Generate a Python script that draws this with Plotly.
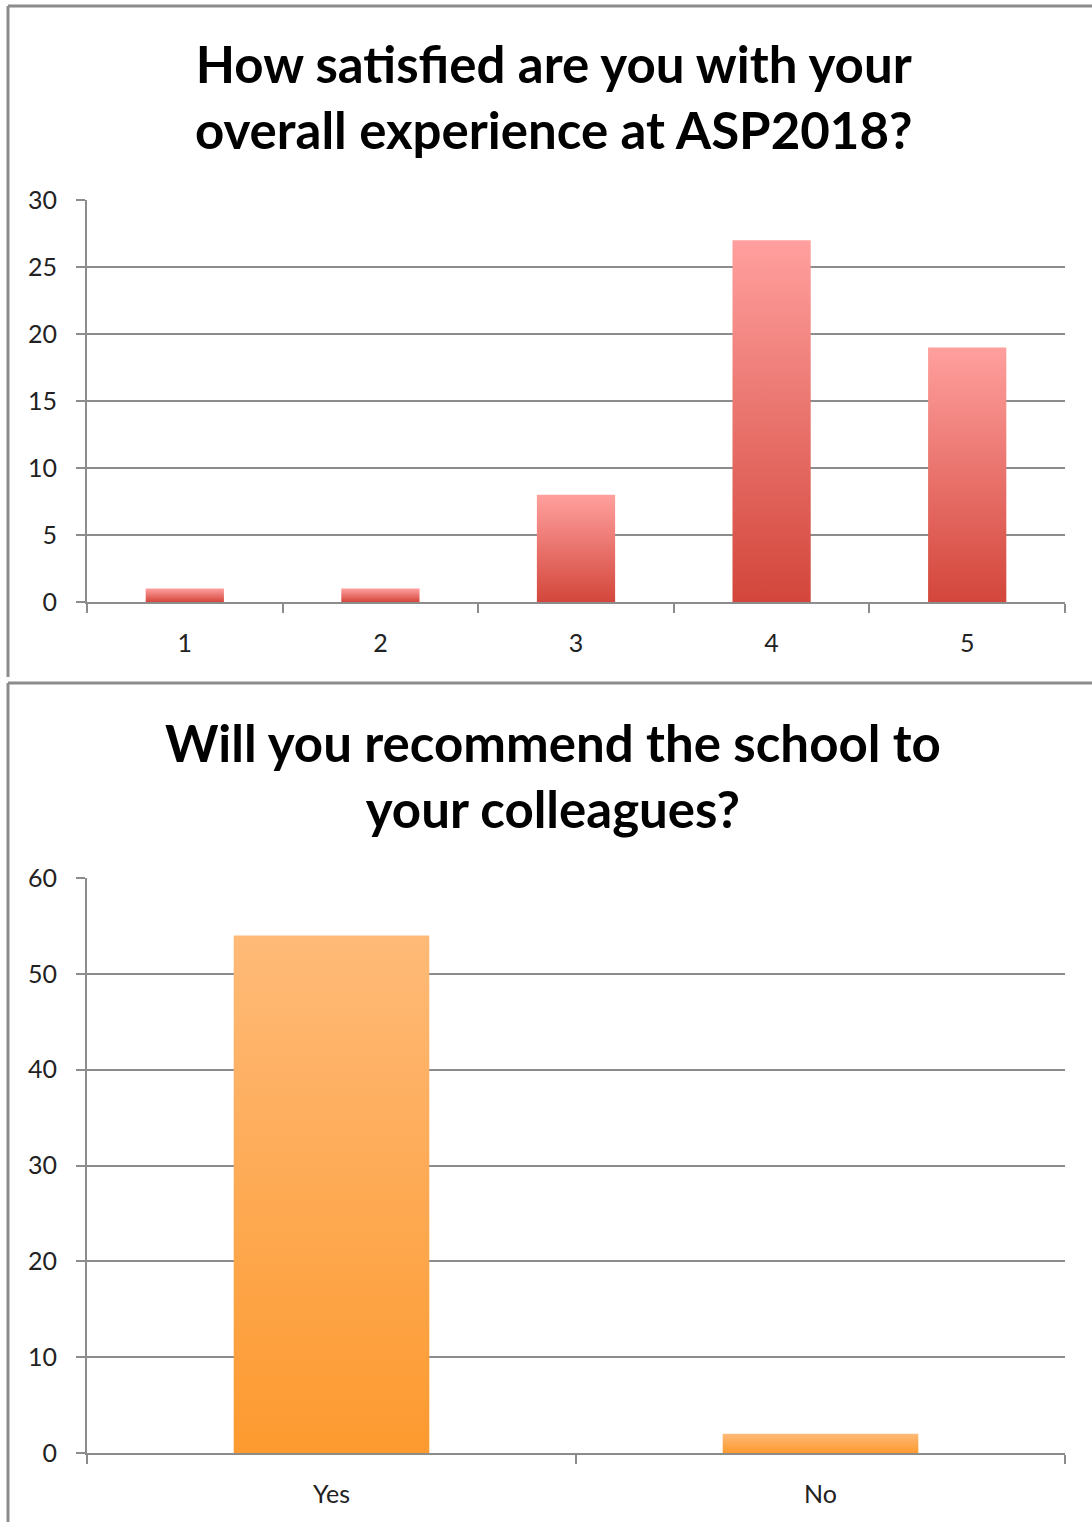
import plotly.graph_objects as go

# ---- data ----
sat_categories = ["1", "2", "3", "4", "5"]
sat_counts = [1, 1, 8, 27, 19]
rec_categories = ["Yes", "No"]
rec_counts = [54, 2]

W, H = 1092, 1522
FONT = "Lato"
GRID = "#8c8c8c"
BAR_W = 0.4


def px(x):
    return x / W


def py(y):
    return 1 - y / H


fig = go.Figure()


def add_bars(cats, vals, xa, ya, colorscale):
    for i, (c, v) in enumerate(zip(cats, vals)):
        x0, x1 = i - BAR_W / 2, i + BAR_W / 2
        fig.add_trace(go.Scatter(
            x=[x0, x1, x1, x0, x0], y=[0, 0, v, v, 0],
            fill="toself", mode="lines", line=dict(width=0, color="rgba(0,0,0,0)"),
            fillgradient=dict(type="vertical", colorscale=colorscale),
            xaxis=xa, yaxis=ya, showlegend=False, name=c, hoverinfo="skip"))


red_scale = [[0, "#d3463b"], [1, "#ffa09e"]]
orange_scale = [[0, "#fd9a2f"], [1, "#ffba78"]]

add_bars(sat_categories, sat_counts, "x", "y", red_scale)
add_bars(rec_categories, rec_counts, "x2", "y2", orange_scale)


def xaxis_cfg(cats, domain, anchor):
    n = len(cats)
    return dict(
        domain=domain, anchor=anchor, range=[-0.5, n - 0.5], automargin=False,
        tickmode="array", tickvals=list(range(n)), ticktext=cats,
        ticks="outside", ticklen=0, ticklabelstandoff=18,
        showline=True, linecolor=GRID, linewidth=2, showgrid=False, zeroline=False,
        minor=dict(tickmode="array", tickvals=[i - 0.5 for i in range(n + 1)],
                   ticks="outside", ticklen=9, tickwidth=2, tickcolor=GRID, showgrid=False),
        tickfont=dict(family=FONT, size=25, color="#222"), fixedrange=True)


def yaxis_cfg(rng, dtick, domain, anchor):
    return dict(
        domain=domain, anchor=anchor, range=rng, dtick=dtick, tick0=0, automargin=False,
        showgrid=True, gridcolor=GRID, gridwidth=2,
        ticks="outside", ticklen=9, tickwidth=2, tickcolor=GRID, ticklabelstandoff=14,
        showline=True, linecolor=GRID, linewidth=2, zeroline=False,
        tickfont=dict(family=FONT, size=25, color="#222"), fixedrange=True)


fig.update_layout(
    width=W, height=H, margin=dict(l=0, r=0, t=0, b=0, autoexpand=False),
    paper_bgcolor="white", plot_bgcolor="white", showlegend=False,
    xaxis=xaxis_cfg(sat_categories, [px(87), px(1065)], "y"),
    yaxis=yaxis_cfg([0, 30], 5, [py(602), py(200)], "x"),
    xaxis2=xaxis_cfg(rec_categories, [px(87), px(1065)], "y2"),
    yaxis2=yaxis_cfg([0, 60], 10, [py(1453), py(878)], "x2"),
)

fig.add_annotation(
    text="<b>How satisfied are you with your<br>overall experience at ASP2018?</b>",
    x=px(553), y=py(97), xref="paper", yref="paper", xanchor="center", yanchor="middle",
    showarrow=False, font=dict(family=FONT, size=51, color="#000"))
fig.add_annotation(
    text="<b>Will you recommend the school to<br>your colleagues?</b>",
    x=px(553), y=py(775), xref="paper", yref="paper", xanchor="center", yanchor="middle",
    showarrow=False, font=dict(family=FONT, size=51, color="#000"))

# chart frames
for (x0, y0, x1, y1) in [(8, 6, 8, 677), (8, 6, 1100, 6), (8, 683, 8, 1530), (8, 683, 1100, 683)]:
    fig.add_shape(type="line", xref="paper", yref="paper",
                  x0=px(x0), y0=py(y0), x1=px(x1), y1=py(y1),
                  line=dict(color=GRID, width=3))

fig.write_html("out.html")
